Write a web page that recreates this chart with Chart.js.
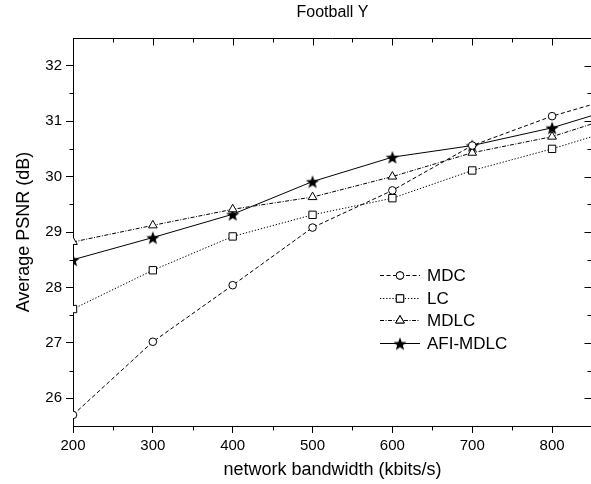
<!DOCTYPE html>
<html><head><meta charset="utf-8">
<script src="https://cdn.jsdelivr.net/npm/chart.js@4/dist/chart.umd.min.js"></script>
<style>html,body{margin:0;padding:0;overflow:hidden;background:#fff;width:591px;height:484px}canvas{display:block}</style>
</head><body>
<canvas id="c" width="600" height="484"></canvas>
<script>
const bandwidth = [200, 300, 400, 500, 600, 700, 800, 850];
const mdc  = [25.70, 27.02, 28.04, 29.08, 29.75, 30.56, 31.09, 31.30];
const lc   = [27.61, 28.31, 28.92, 29.31, 29.61, 30.11, 30.50, 30.72];
const mdlc = [28.82, 29.12, 29.41, 29.63, 30.00, 30.43, 30.72, 30.95];
const afi  = [28.50, 28.90, 29.32, 29.91, 30.35, 30.56, 30.88, 31.10];
const seriesNames = ['MDC', 'LC', 'MDLC', 'AFI-MDLC'];
const xTicks = [200, 300, 400, 500, 600, 700, 800];
const yTicks = [26, 27, 28, 29, 30, 31, 32];

const FONT = "'Liberation Sans', Arial, sans-serif";

function makeStar(size){
  const c = document.createElement('canvas'); c.width = size; c.height = size;
  const g = c.getContext('2d'); const cx = size/2, cy = size/2 + 0.8, R = size/2, r = R*0.42;
  g.beginPath();
  for (let i = 0; i < 10; i++){ const a = -Math.PI/2 + i*Math.PI/5; const rad = i%2 ? r : R; g.lineTo(cx + rad*Math.cos(a), cy + rad*Math.sin(a)); }
  g.closePath(); g.fillStyle = '#000'; g.fill(); return c;
}
const star = makeStar(14);
const last = bandwidth.length - 1;
const rad = r => ctx => ctx.dataIndex === last ? 0 : r;
const pts = arr => bandwidth.map((b, i) => ({x: b, y: arr[i]}));

const styles = [
  {data: mdc,  pointStyle: 'circle',   r: 3.8, dash: [4, 2.5]},
  {data: lc,   pointStyle: 'rect',     r: 5.2, dash: [1.3, 1.8]},
  {data: mdlc, pointStyle: 'triangle', r: 5.0, dash: [4, 1.5, 1, 1.5]},
  {data: afi,  pointStyle: star,       r: 7,   dash: []}
];

const datasets = styles.map((s, i) => ({
  label: seriesNames[i], data: pts(s.data),
  borderColor: '#000', borderWidth: 1, borderDash: s.dash,
  pointStyle: s.pointStyle, pointRadius: rad(s.r), pointBorderWidth: 1,
  pointBorderColor: '#000', pointBackgroundColor: '#fff', fill: false, tension: 0
}));

const frame = {
  id: 'frame',
  afterDraw(chart){
    const {ctx, chartArea: a, scales: {x, y}} = chart;
    ctx.save(); ctx.strokeStyle = '#000'; ctx.lineWidth = 1; ctx.setLineDash([]);
    ctx.beginPath();
    const top = Math.round(a.top) + 0.5, right = Math.round(a.right) - 0.5;
    const left = Math.round(a.left) + 0.5, bottom = Math.round(a.bottom) + 0.5;
    ctx.moveTo(left, top); ctx.lineTo(right, top);
    ctx.moveTo(right, top); ctx.lineTo(right, bottom);
    const xMinor = xTicks.map(v => v + 50);
    const yMinor = [yTicks[0] - 0.5].concat(yTicks.map(v => v + 0.5));
    xTicks.forEach(v => { const p = Math.round(x.getPixelForValue(v)) + 0.5; ctx.moveTo(p, top); ctx.lineTo(p, top + 7); });
    xMinor.forEach(v => { const p = Math.round(x.getPixelForValue(v)) + 0.5; if (p > right) return;
      ctx.moveTo(p, top); ctx.lineTo(p, top + 4); ctx.moveTo(p, bottom); ctx.lineTo(p, bottom + 4); });
    yTicks.forEach(v => { const p = Math.round(y.getPixelForValue(v)) + 0.5; ctx.moveTo(right, p); ctx.lineTo(right - 7, p); });
    yMinor.forEach(v => { const p = Math.round(y.getPixelForValue(v)) + 0.5; if (p > bottom - 1 || p < top + 1) return;
      ctx.moveTo(right, p); ctx.lineTo(right - 4, p); ctx.moveTo(left, p); ctx.lineTo(left - 4, p); });
    ctx.stroke();
    ctx.restore();
  }
};

const legendPlugin = {
  id: 'insideLegend',
  afterDatasetsDraw(chart){
    const ctx = chart.ctx;
    ctx.save();
    const x0 = 380, x1 = 420, xm = 400, tx = 427, y0 = 275, dy = 22.6;
    chart.data.datasets.forEach((ds, i) => {
      const yy = Math.round(y0 + i*dy) + 0.5;
      ctx.strokeStyle = '#000'; ctx.lineWidth = 1; ctx.setLineDash(ds.borderDash || []);
      ctx.beginPath(); ctx.moveTo(x0, yy); ctx.lineTo(x1, yy); ctx.stroke();
      ctx.setLineDash([]);
      const st = styles[i];
      if (typeof st.pointStyle === 'object') {
        ctx.drawImage(st.pointStyle, xm - st.pointStyle.width/2, yy - st.pointStyle.height/2);
      } else {
        ctx.fillStyle = '#fff';
        Chart.helpers.drawPoint(ctx, {pointStyle: st.pointStyle, radius: st.r, borderWidth: 1, rotation: 0}, xm, yy);
        ctx.fill(); ctx.stroke();
      }
      ctx.fillStyle = '#000'; ctx.font = '17px ' + FONT; ctx.textBaseline = 'middle'; ctx.textAlign = 'left';
      ctx.fillText(ds.label, tx, yy + 1);
    });
    ctx.restore();
  }
};

new Chart(document.getElementById('c'), {
  type: 'line',
  data: {datasets},
  plugins: [frame, legendPlugin],
  options: {
    responsive: false, animation: false, events: [],
    layout: {padding: {left: 0, right: 6, top: 0, bottom: 0}},
    plugins: {
      legend: {display: false}, tooltip: {enabled: false},
      title: {display: true, text: 'Football Y', fullSize: false, color: '#000',
        font: {family: FONT, size: 16, weight: 'normal'}, padding: {top: 3, bottom: 15.8}}
    },
    scales: {
      x: {
        type: 'linear', min: 200, max: 850,
        afterBuildTicks: s => { s.ticks = xTicks.map(v => ({value: v})); },
        afterFit: s => { s.height = 58; },
        grid: {drawOnChartArea: false, drawTicks: true, tickLength: 7, color: '#000'},
        border: {display: true, color: '#000', width: 1},
        ticks: {color: '#000', padding: 4, maxRotation: 0, font: {family: FONT, size: 15}},
        title: {display: true, text: 'network bandwidth (kbits/s)', color: '#000', font: {family: FONT, size: 18}, padding: {top: 0, bottom: 3}}
      },
      y: {
        type: 'linear', min: 25.5, max: 32.5,
        afterBuildTicks: s => { s.ticks = yTicks.map(v => ({value: v})); },
        afterFit: s => { s.width = 73; },
        grid: {drawOnChartArea: false, drawTicks: true, tickLength: 7, color: '#000'},
        border: {display: true, color: '#000', width: 1},
        ticks: {color: '#000', padding: 4, font: {family: FONT, size: 15}},
        title: {display: true, text: 'Average PSNR (dB)', color: '#000', font: {family: FONT, size: 18}, padding: {top: 13, bottom: 0}}
      }
    }
  }
});
</script>
</body></html>
